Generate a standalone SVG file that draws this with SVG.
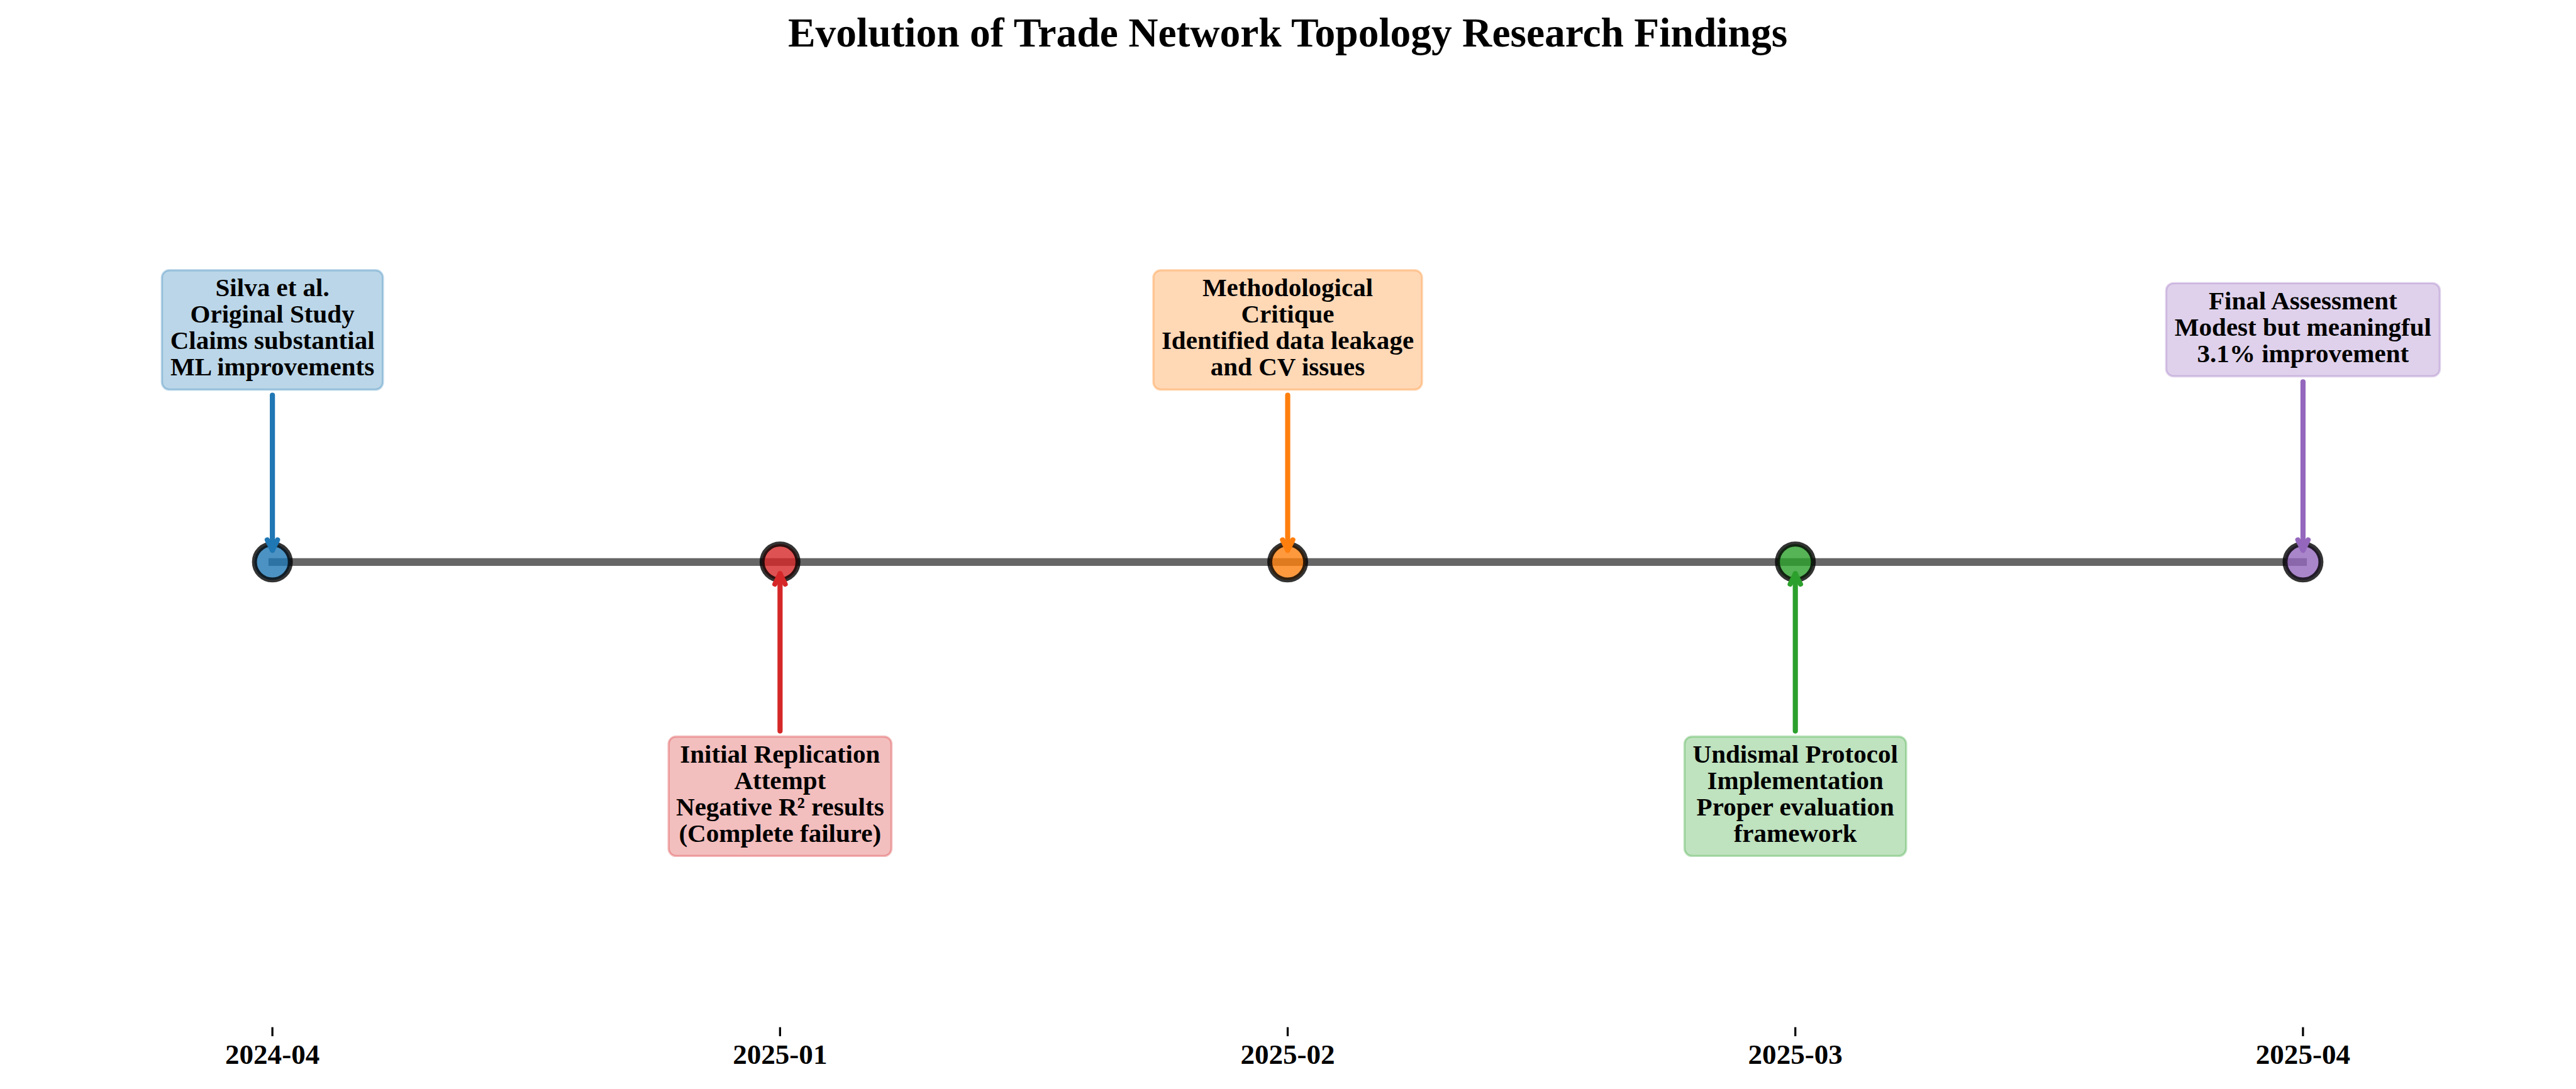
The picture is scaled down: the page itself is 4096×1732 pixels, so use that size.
<svg xmlns="http://www.w3.org/2000/svg" width="4096" height="1732" viewBox="0 0 4096 1732">
<style>
  text { font-family: "Liberation Serif", "Times New Roman", serif; font-weight: bold; fill: #000; text-anchor: middle; }
  .lbl { font-size: 41.7px; }
  .tick { font-size: 45.8px; }
  .title { font-size: 66.5px; }
  .timeline { stroke: #666666; stroke-width: 12.5; stroke-linecap: square; fill: none; }
  .dot { stroke: #000; stroke-opacity: 0.8; stroke-width: 8; fill-opacity: 0.8; }
  .box { stroke-width: 3.5; fill-opacity: 0.3; stroke-opacity: 0.3; }
  .arrow { stroke-width: 8.3; stroke-linecap: round; fill: none; }
  .tk { stroke: #000; stroke-width: 3.3; }
</style>
<defs>
  <marker id="h-blue" markerUnits="userSpaceOnUse" orient="auto" viewBox="-24 -14 30 28" refX="0" refY="0" markerWidth="30" markerHeight="28" overflow="visible"><path d="M-16.7,-8.3 L0,0 L-16.7,8.3" fill="none" stroke="#1f77b4" stroke-width="8.3" stroke-linecap="round" stroke-linejoin="round"/></marker>
  <marker id="h-red" markerUnits="userSpaceOnUse" orient="auto" viewBox="-24 -14 30 28" refX="0" refY="0" markerWidth="30" markerHeight="28" overflow="visible"><path d="M-16.7,-8.3 L0,0 L-16.7,8.3" fill="none" stroke="#d62728" stroke-width="8.3" stroke-linecap="round" stroke-linejoin="round"/></marker>
  <marker id="h-orange" markerUnits="userSpaceOnUse" orient="auto" viewBox="-24 -14 30 28" refX="0" refY="0" markerWidth="30" markerHeight="28" overflow="visible"><path d="M-16.7,-8.3 L0,0 L-16.7,8.3" fill="none" stroke="#ff7f0e" stroke-width="8.3" stroke-linecap="round" stroke-linejoin="round"/></marker>
  <marker id="h-green" markerUnits="userSpaceOnUse" orient="auto" viewBox="-24 -14 30 28" refX="0" refY="0" markerWidth="30" markerHeight="28" overflow="visible"><path d="M-16.7,-8.3 L0,0 L-16.7,8.3" fill="none" stroke="#2ca02c" stroke-width="8.3" stroke-linecap="round" stroke-linejoin="round"/></marker>
  <marker id="h-purple" markerUnits="userSpaceOnUse" orient="auto" viewBox="-24 -14 30 28" refX="0" refY="0" markerWidth="30" markerHeight="28" overflow="visible"><path d="M-16.7,-8.3 L0,0 L-16.7,8.3" fill="none" stroke="#9467bd" stroke-width="8.3" stroke-linecap="round" stroke-linejoin="round"/></marker>
</defs>
<rect x="0" y="0" width="4096" height="1732" fill="#ffffff"/>
<g transform="scale(0.98438)">
  <text class="title" x="2080" y="75">Evolution of Trade Network Topology Research Findings</text>

  <g id="axis">
    <line class="tk" x1="440" y1="1659.6" x2="440" y2="1674.2"/>
    <line class="tk" x1="1260" y1="1659.6" x2="1260" y2="1674.2"/>
    <line class="tk" x1="2080" y1="1659.6" x2="2080" y2="1674.2"/>
    <line class="tk" x1="2900" y1="1659.6" x2="2900" y2="1674.2"/>
    <line class="tk" x1="3720" y1="1659.6" x2="3720" y2="1674.2"/>
    <text class="tick" x="440" y="1719">2024-04</text>
    <text class="tick" x="1260" y="1719">2025-01</text>
    <text class="tick" x="2080" y="1719">2025-02</text>
    <text class="tick" x="2900" y="1719">2025-03</text>
    <text class="tick" x="3720" y="1719">2025-04</text>
  </g>

  <line id="timeline" class="timeline" x1="440" y1="908" x2="3720" y2="908"/>

  <g id="node-2024-04">
    <circle class="dot" cx="440" cy="908" r="29" fill="#1f77b4"/>
    <rect class="box" x="261.5" y="436.5" width="357" height="193" rx="12" fill="#1f77b4" stroke="#1f77b4"/>
    <text class="lbl" x="440" y="478.75">Silva et al.</text>
    <text class="lbl" x="440" y="521.25">Original Study</text>
    <text class="lbl" x="440" y="563.75">Claims substantial</text>
    <text class="lbl" x="440" y="606.25">ML improvements</text>
  </g>

  <g id="node-2025-01">
    <circle class="dot" cx="1260" cy="908" r="29" fill="#d62728"/>
    <rect class="box" x="1080" y="1190" width="360" height="193" rx="12" fill="#d62728" stroke="#d62728"/>
    <text class="lbl" x="1260" y="1232.25">Initial Replication</text>
    <text class="lbl" x="1260" y="1274.75">Attempt</text>
    <text class="lbl" x="1260" y="1317.25">Negative R² results</text>
    <text class="lbl" x="1260" y="1359.75">(Complete failure)</text>
  </g>

  <g id="node-2025-02">
    <circle class="dot" cx="2080" cy="908" r="29" fill="#ff7f0e"/>
    <rect class="box" x="1863" y="436.5" width="434" height="193" rx="12" fill="#ff7f0e" stroke="#ff7f0e"/>
    <text class="lbl" x="2080" y="478.75">Methodological</text>
    <text class="lbl" x="2080" y="521.25">Critique</text>
    <text class="lbl" x="2080" y="563.75">Identified data leakage</text>
    <text class="lbl" x="2080" y="606.25">and CV issues</text>
  </g>

  <g id="node-2025-03">
    <circle class="dot" cx="2900" cy="908" r="29" fill="#2ca02c"/>
    <rect class="box" x="2721" y="1190" width="358" height="193" rx="12" fill="#2ca02c" stroke="#2ca02c"/>
    <text class="lbl" x="2900" y="1232.25">Undismal Protocol</text>
    <text class="lbl" x="2900" y="1274.75">Implementation</text>
    <text class="lbl" x="2900" y="1317.25">Proper evaluation</text>
    <text class="lbl" x="2900" y="1359.75">framework</text>
  </g>

  <g id="node-2025-04">
    <circle class="dot" cx="3720" cy="908" r="29" fill="#9467bd"/>
    <rect class="box" x="3499" y="457.5" width="442" height="150.5" rx="12" fill="#9467bd" stroke="#9467bd"/>
    <text class="lbl" x="3720" y="500">Final Assessment</text>
    <text class="lbl" x="3720" y="542.5">Modest but meaningful</text>
    <text class="lbl" x="3720" y="585">3.1% improvement</text>
  </g>

  <g id="connectors">
    <path class="arrow" d="M440,638.5 L440,889" stroke="#1f77b4" marker-end="url(#h-blue)"/>
    <path class="arrow" d="M1260,1181 L1260,927" stroke="#d62728" marker-end="url(#h-red)"/>
    <path class="arrow" d="M2080,638.5 L2080,889" stroke="#ff7f0e" marker-end="url(#h-orange)"/>
    <path class="arrow" d="M2900,1181 L2900,927" stroke="#2ca02c" marker-end="url(#h-green)"/>
    <path class="arrow" d="M3720,617 L3720,889" stroke="#9467bd" marker-end="url(#h-purple)"/>
  </g>
</g>
</svg>
